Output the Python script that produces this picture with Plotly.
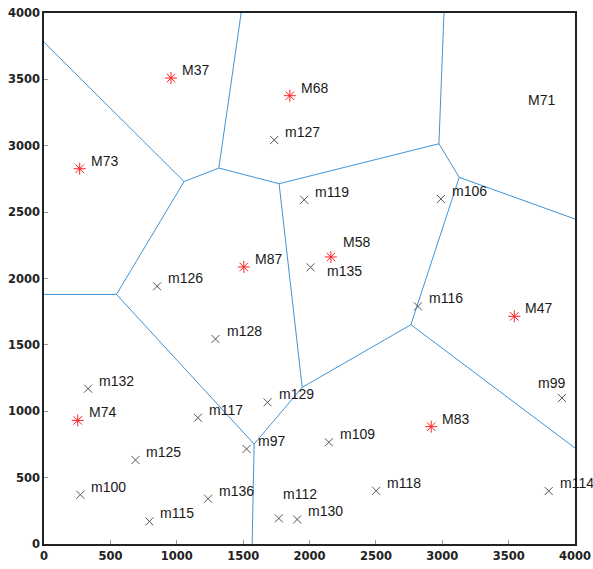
import plotly.graph_objects as go

# Cluster heads (red asterisks)
head_names = ["M37", "M68", "M73", "M87", "M58", "M47", "M74", "M83"]
head_x = [957, 1852, 269, 1505, 2161, 3543, 254, 2917]
head_y = [3510, 3377, 2827, 2087, 2162, 1715, 931, 884]

# Member nodes (black crosses)
node_names = ["m127", "m119", "m106", "m135", "m126", "m128", "m116", "m132",
              "m117", "m129", "m97", "m109", "m99", "m125", "m100", "m136",
              "m115", "m112", "m130", "m118", "m114"]
node_x = [1734, 1960, 2990, 2008, 852, 1292, 2817, 332,
          1159, 1684, 1526, 2146, 3902, 689, 274, 1236,
          794, 1769, 1907, 2502, 3802]
node_y = [3043, 2593, 2599, 2084, 1941, 1544, 1790, 1170,
          951, 1067, 716, 766, 1100, 633, 371, 341,
          170, 193, 185, 401, 399]

# Label whose head lies outside the field
extra_names = ["M71"]
extra_x = [3631]
extra_y = [3347]

# Voronoi vertices and edges of the cluster heads
vert = {
    "A": (1055, 2730), "B": (1317, 2832), "C": (1771, 2714),
    "D": (546, 1880), "E": (1583, 753), "F": (1945, 1180),
    "G": (2764, 1652), "H": (3128, 2762), "I": (2975, 3015),
    "L1": (0, 3780), "T1": (1485, 4000), "L2": (0, 1880),
    "B1": (1568, 0), "R1": (4000, 723), "R2": (4000, 2448),
    "T2": (3013, 4000),
}
edges = [("L1", "A"), ("A", "B"), ("B", "T1"), ("B", "C"), ("A", "D"),
         ("D", "L2"), ("D", "E"), ("E", "B1"), ("E", "F"), ("F", "C"),
         ("F", "G"), ("G", "R1"), ("G", "H"), ("H", "R2"), ("H", "I"),
         ("I", "T2"), ("I", "C")]

ex, ey = [], []
for a, b in edges:
    ex += [vert[a][0], vert[b][0], None]
    ey += [vert[a][1], vert[b][1], None]

fig = go.Figure()
fig.add_trace(go.Scatter(x=ex, y=ey, mode="lines",
                         line=dict(color="#3f93d3", width=1),
                         hoverinfo="skip", showlegend=False))
fig.add_trace(go.Scatter(x=node_x, y=node_y, mode="markers",
                         marker=dict(symbol="x-thin-open", size=8,
                                     color="#555555",
                                     line=dict(color="#555555", width=1)),
                         text=node_names, showlegend=False))
fig.add_trace(go.Scatter(x=head_x, y=head_y, mode="markers",
                         marker=dict(symbol="asterisk-open", size=10,
                                     color="#ff2020",
                                     line=dict(color="#ff2020", width=1)),
                         text=head_names, showlegend=False))

# label placement: default up-right of the mark, a few moved to avoid overlaps
default_shift = dict(xanchor="left", xshift=9, yshift=8)
special = {
    "m99": dict(xanchor="center", xshift=-10, yshift=15),
    "m112": dict(xanchor="left", xshift=2, yshift=24),
    "m135": dict(xanchor="left", xshift=14, yshift=-4),
    "M58": dict(xanchor="left", xshift=10, yshift=15),
}
label_font = dict(family="Liberation Sans, Arial", size=14, color="#1a1a1a")

annotations = []
for names, xs, ys in [(head_names, head_x, head_y), (node_names, node_x, node_y)]:
    for n, x, y in zip(names, xs, ys):
        s = special.get(n, default_shift)
        annotations.append(dict(x=x, y=y, text=n, showarrow=False,
                                yanchor="middle", font=label_font, **s))
for n, x, y in zip(extra_names, extra_x, extra_y):
    annotations.append(dict(x=x, y=y, text=n, showarrow=False, xanchor="left",
                            yanchor="middle", font=label_font))

tick_font = dict(family="DejaVu Sans", size=11.5, color="#222222", weight="bold")
axis_common = dict(range=[0, 4000], dtick=500, tick0=0, showgrid=False,
                   zeroline=False, showline=True, linecolor="#222222",
                   linewidth=1.5, mirror=True, ticks="inside", ticklen=4,
                   tickcolor="#999999", tickfont=tick_font, automargin=False)

fig.update_layout(
    width=593, height=569,
    margin=dict(l=44, r=18, t=13, b=25),
    plot_bgcolor="white", paper_bgcolor="white",
    xaxis=dict(**axis_common),
    yaxis=dict(**axis_common),
    annotations=annotations,
)

fig.write_html("out.html")
